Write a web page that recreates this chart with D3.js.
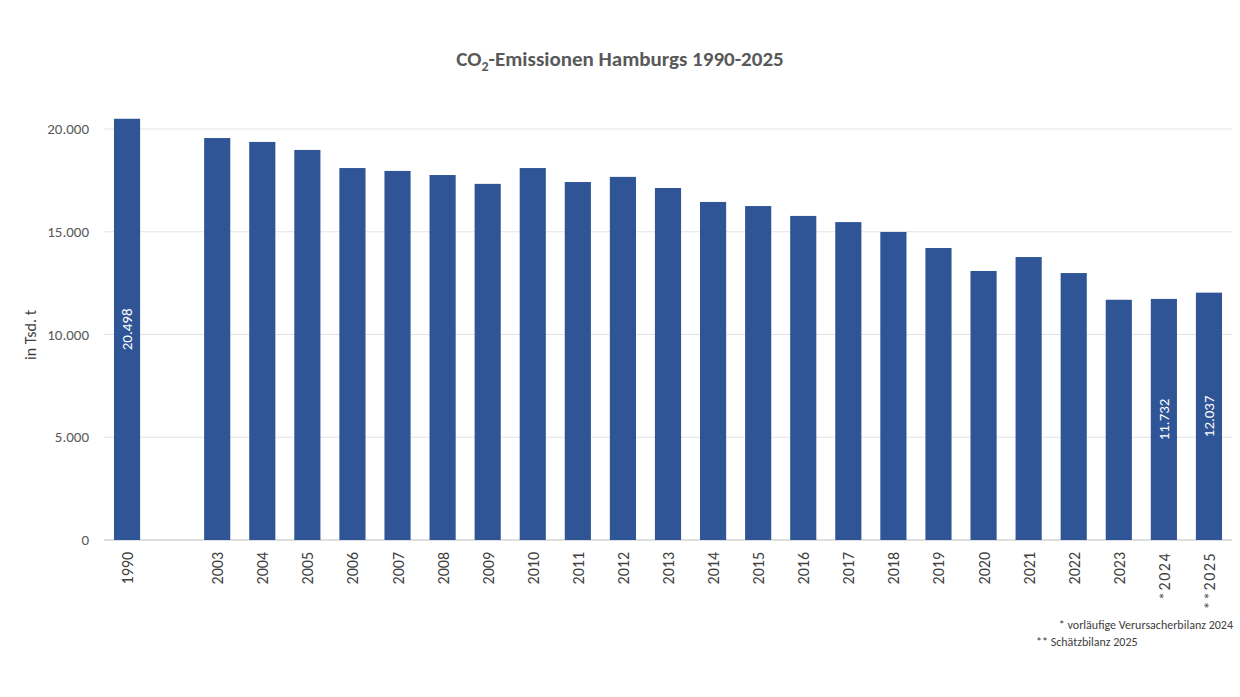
<!DOCTYPE html>
<html><head><meta charset="utf-8">
<script src="https://cdn.jsdelivr.net/npm/d3@7"></script>
<style>body{margin:0;background:#fff}svg{font-family:Calibri,Carlito,"Liberation Sans",Arial,sans-serif}</style>
</head><body><svg id="c" width="1240" height="697"></svg>
<script>
const years = ['1990', '', '2003', '2004', '2005', '2006', '2007', '2008', '2009', '2010', '2011', '2012', '2013', '2014', '2015', '2016', '2017', '2018', '2019', '2020', '2021', '2022', '2023', '2024', '2025'];
const tickLabels = ['1990', '', '2003', '2004', '2005', '2006', '2007', '2008', '2009', '2010', '2011', '2012', '2013', '2014', '2015', '2016', '2017', '2018', '2019', '2020', '2021', '2022', '2023', '*2024', '**2025'];
const emissions = [20498, null, 19560, 19370, 18980, 18100, 17960, 17760, 17330, 18100, 17420, 17670, 17130, 16450, 16250, 15770, 15470, 14990, 14210, 13090, 13770, 12990, 11690, 11732, 12037];
const labelled = ['1990', '2024', '2025'];
const yTicks = [0, 5000, 10000, 15000, 20000];

const svg = d3.select('#c');
const fmt = v => d3.format(',')(v).replace(/,/g, '.');
const x = d3.scaleBand().domain(years).range([104.5, 1231.5]).paddingInner(0.42).paddingOuter(0.21);
const y = d3.scaleLinear().domain([0, 20000]).range([540, 129]);

svg.append('g').selectAll('line').data(yTicks).enter().append('line')
    .attrs = null;
svg.select('g').selectAll('line')
    .attr('x1', 104).attr('x2', 1232)
    .attr('y1', d => y(d)).attr('y2', d => y(d))
    .attr('stroke', d => d === 0 ? '#bfbfbf' : '#e3e3e3').attr('stroke-width', 1);

svg.append('g').selectAll('text').data(yTicks).enter().append('text')
    .attr('x', 89).attr('y', d => y(d) + 5).attr('text-anchor', 'end')
    .attr('font-size', 15).attr('fill', '#595959').text(d => fmt(d));

const data = years.map((k, i) => ({k: k, v: emissions[i], t: tickLabels[i]}));

svg.append('g').selectAll('rect').data(data.filter(d => d.v != null)).enter().append('rect')
    .attr('x', d => x(d.k)).attr('width', x.bandwidth())
    .attr('y', d => y(d.v)).attr('height', d => y(0) - y(d.v))
    .attr('fill', '#2f5597');

svg.append('g').selectAll('text').data(data.filter(d => labelled.includes(d.k))).enter().append('text')
    .attr('transform', d => 'translate(' + (x(d.k) + x.bandwidth() / 2 + 5) + ',' + y(d.v / 2) + ') rotate(-90)')
    .attr('text-anchor', 'middle').attr('font-size', 15).attr('fill', '#fff').text(d => fmt(d.v));

svg.append('g').selectAll('text').data(data.filter(d => d.t)).enter().append('text')
    .attr('transform', d => 'translate(' + (x(d.k) + x.bandwidth() / 2 + 6) + ',552) rotate(-90)')
    .attr('text-anchor', 'end').attr('font-size', 16).attr('fill', '#404040')
    .attr('letter-spacing', d => d.t.startsWith('*') ? 1.5 : 0).text(d => d.t);

svg.append('text').attr('transform', 'translate(36,335) rotate(-90)').attr('text-anchor', 'middle')
    .attr('font-size', 16).attr('fill', '#404040').text('in Tsd. t');

const title = svg.append('text').attr('x', 620).attr('y', 66).attr('text-anchor', 'middle')
    .attr('font-size', 21).attr('font-weight', 'bold').attr('fill', '#595959');
title.append('tspan').text('CO');
title.append('tspan').attr('font-size', 14).attr('dy', 5).text('2');
title.append('tspan').attr('dy', -5).text('-Emissionen Hamburgs 1990-2025');

svg.append('text').attr('x', 1233).attr('y', 629).attr('text-anchor', 'end').attr('font-size', 12)
    .attr('fill', '#404040').text('* vorläufige Verursacherbilanz 2024');
svg.append('text').attr('x', 1036).attr('y', 646).attr('font-size', 12)
    .attr('fill', '#404040').text('** Schätzbilanz 2025');
</script></body></html>
